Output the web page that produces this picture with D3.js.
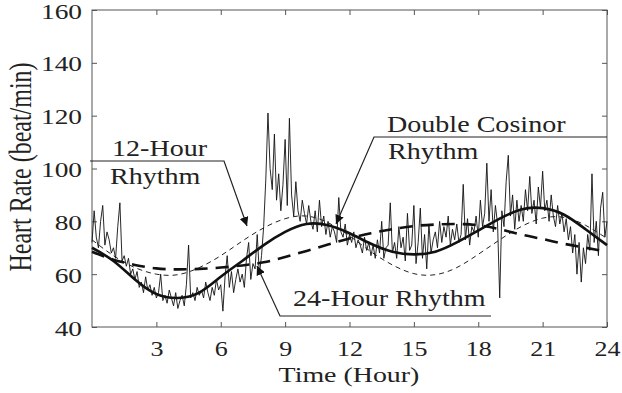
<!DOCTYPE html>
<html>
<head>
<meta charset="utf-8">
<script src="https://cdn.jsdelivr.net/npm/d3@7"></script>
<style>
  body { margin: 0; background: #fff; }
  svg text { font-family: "Liberation Serif", "DejaVu Serif", serif; fill: #222; }
</style>
</head>
<body>
<svg id="chart" width="622" height="393"></svg>
<script>
// hourly readings of the fitted curves (hour 0..24)
var hours = d3.range(0, 25);
var doubleCosinor = [70, 65, 58, 52.5, 51, 53, 59, 65, 71, 76, 79, 78.5, 75.5, 71.5, 68.5, 67.5, 68.5, 72, 76.5, 81, 84.5, 85, 82.5, 77, 71];
var rhythm24 = [68.5, 65.5, 63.5, 62.2, 61.8, 62, 62.5, 63.3, 64.5, 66.5, 68.8, 71.2, 73.5, 75.5, 77, 78.2, 78.8, 79, 78.5, 77, 75, 73.3, 71.5, 70, 68.5];
var rhythm12 = [73, 67, 62.5, 60, 59.8, 62.5, 67, 72.5, 77.5, 81, 82, 79.5, 74.5, 68.5, 63.5, 60.2, 59.8, 62.5, 67.5, 73, 78, 81.2, 81.5, 78.5, 73.5];

// measured heart rate, one reading every 0.1 hour
var rawStep = 0.1;
var rawRate = [
  72, 84, 74, 70, 80, 86, 71, 76, 73, 68,
  70, 66, 78, 87, 65, 67, 63, 66, 60, 62,
  58, 61, 55, 57, 53, 59, 54, 56, 52, 55,
  51, 53, 60, 50, 52, 49, 54, 51, 48, 53,
  47, 50, 52, 48, 56, 71, 51, 53, 50, 55,
  52, 54, 51, 57, 53, 50, 55, 52, 58, 54,
  56, 46, 59, 67, 55, 61, 53, 58, 62, 57,
  60, 55, 66, 72, 58, 64, 62, 75, 60, 67,
  78, 96, 121, 100, 92, 113, 88, 98, 84, 94,
  111, 86, 119, 90, 82, 95, 84, 80, 88, 83,
  79, 86, 80, 77, 84, 76, 88, 78, 82, 75,
  80, 74, 78, 76, 72, 89, 76, 74, 79, 71,
  75, 72, 76, 70, 73, 71, 68, 74, 69, 72,
  67, 71, 66, 73, 68, 80, 66, 70, 71, 87,
  68, 72, 66, 78, 70, 74, 65, 83, 69, 71,
  86, 64, 72, 85, 66, 75, 62, 79, 68, 73,
  76, 70, 80, 72, 78, 74, 82, 71, 77, 73,
  79, 72, 75, 94, 73, 81, 71, 78, 76, 82,
  74, 88, 78, 83, 102, 80, 92, 76, 86, 79,
  51, 84, 78, 95, 105, 82, 90, 77, 88, 80,
  86, 80, 92, 84, 97, 83, 88, 79, 93, 85,
  99, 84, 88, 80, 90, 82, 78, 86, 79, 83,
  76, 81, 73, 78, 68, 75, 60, 72, 57, 70,
  64, 75, 69, 98, 72, 80, 67, 85, 91, 74,
  80
];

var xTicks = [3, 6, 9, 12, 15, 18, 21, 24];
var yTicks = [40, 60, 80, 100, 120, 140, 160];

var svg = d3.select("#chart"),
    plotLeft = 92, plotRight = 607, plotTop = 10, plotBottom = 327;

var x = d3.scaleLinear().domain([0, 24]).range([plotLeft, plotRight]),
    y = d3.scaleLinear().domain([40, 160]).range([plotBottom, plotTop]);

// arrow head
svg.append("defs").append("marker")
    .attr("id", "arrow")
    .attr("viewBox", "0 0 10 10")
    .attr("refX", 10).attr("refY", 5)
    .attr("markerWidth", 9).attr("markerHeight", 9)
    .attr("markerUnits", "userSpaceOnUse")
    .attr("orient", "auto")
    .append("path").attr("d", "M0,0L10,5L0,10z").attr("fill", "#111");

// axes, ticks pointing inwards on all four sides
function styleAxis(g) {
    g.select(".domain").remove();
    g.selectAll(".tick line").attr("stroke", "#555");
}
svg.append("g").attr("transform", "translate(0," + plotBottom + ")")
    .call(d3.axisBottom(x).tickValues(xTicks).tickSizeInner(-5).tickSizeOuter(0))
    .call(styleAxis)
    .call(function(g) {
        g.selectAll(".tick text")
            .attr("y", 29).attr("dy", 0)
            .attr("font-size", 20)
            .attr("transform", "scale(1.3,1)");
    });
svg.append("g").attr("transform", "translate(0," + plotTop + ")")
    .call(d3.axisTop(x).tickValues(xTicks).tickSizeInner(-5).tickSizeOuter(0).tickFormat(""))
    .call(styleAxis);
svg.append("g").attr("transform", "translate(" + plotLeft + ",0)")
    .call(d3.axisLeft(y).tickValues(yTicks).tickSizeInner(-5).tickSizeOuter(0))
    .call(styleAxis)
    .call(function(g) {
        g.selectAll(".tick text")
            .attr("x", -10 / 1.37).attr("dy", 0).attr("y", 8)
            .attr("font-size", 20)
            .attr("transform", "scale(1.37,1)");
    });
svg.append("g").attr("transform", "translate(" + plotRight + ",0)")
    .call(d3.axisRight(y).tickValues(yTicks).tickSizeInner(-5).tickSizeOuter(0).tickFormat(""))
    .call(styleAxis);

svg.append("rect")
    .attr("x", plotLeft).attr("y", plotTop)
    .attr("width", plotRight - plotLeft).attr("height", plotBottom - plotTop)
    .attr("fill", "none").attr("stroke", "#555").attr("stroke-width", 1);

// raw signal
var rawLine = d3.line()
    .x(function(d, i) { return x(i * rawStep); })
    .y(function(d) { return y(d); });
svg.append("path")
    .datum(rawRate)
    .attr("d", rawLine)
    .attr("fill", "none").attr("stroke", "#111").attr("stroke-width", 0.9);

// fitted rhythms
var fit = d3.line()
    .curve(d3.curveNatural)
    .x(function(d, i) { return x(hours[i]); })
    .y(function(d) { return y(d); });

svg.append("path").datum(rhythm12).attr("d", fit)
    .attr("fill", "none").attr("stroke", "#222").attr("stroke-width", 1)
    .attr("stroke-dasharray", "5,4");
svg.append("path").datum(rhythm24).attr("d", fit)
    .attr("fill", "none").attr("stroke", "#111").attr("stroke-width", 2.6)
    .attr("stroke-dasharray", "13,8");
svg.append("path").datum(doubleCosinor).attr("d", fit)
    .attr("fill", "none").attr("stroke", "#111").attr("stroke-width", 2.6);

// annotations
var callouts = [
    { pts: [[90, 161], [224, 161], [247, 226]], lines: [["12-Hour", 112, 156], ["Rhythm", 110, 184]] },
    { pts: [[607, 137], [374, 137], [336, 224]], lines: [["Double Cosinor", 387, 132], ["Rhythm", 388, 159]] },
    { pts: [[491, 316], [280, 316], [257, 266]], lines: [["24-Hour Rhythm", 293, 306]] }
];
callouts.forEach(function(c) {
    svg.append("path")
        .attr("d", d3.line()(c.pts))
        .attr("fill", "none").attr("stroke", "#222").attr("stroke-width", 1.2)
        .attr("marker-end", "url(#arrow)");
    c.lines.forEach(function(t) {
        svg.append("text")
            .attr("transform", "translate(" + t[1] + "," + t[2] + ") scale(1.17,1)")
            .attr("font-size", 24)
            .text(t[0]);
    });
});

// axis titles
svg.append("text")
    .attr("transform", "translate(349,382) scale(1.33,1)")
    .attr("text-anchor", "middle")
    .attr("font-size", 21)
    .text("Time (Hour)");
svg.append("text")
    .attr("transform", "translate(31,167) scale(1.35,1) rotate(-90)")
    .attr("text-anchor", "middle")
    .attr("font-size", 24)
    .text("Heart Rate (beat/min)");
</script>
</body>
</html>
